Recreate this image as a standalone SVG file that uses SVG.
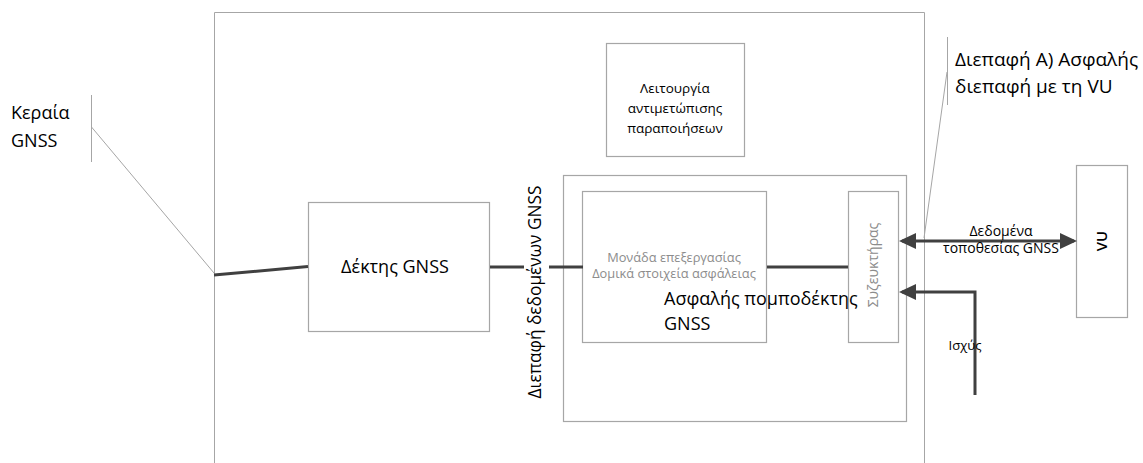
<svg xmlns="http://www.w3.org/2000/svg" width="1143" height="463" viewBox="0 0 1143 463">
<style>
.box{fill:#fff;stroke:#a6a6a6;stroke-width:1.2}
.thin{fill:none;stroke:#a6a6a6;stroke-width:1}
.thick{fill:none;stroke:#404040;stroke-width:3}
.t{font-family:"Open Sans","DejaVu Sans",sans-serif;fill:#000}
.g{font-family:"Open Sans","DejaVu Sans",sans-serif;fill:#8c8c8c}
</style>
<defs>
<marker id="ah" markerWidth="17" markerHeight="16" refX="14" refY="8" orient="auto-start-reverse" markerUnits="userSpaceOnUse">
<path d="M0,0 L17,8 L0,16 Z" fill="#404040"/>
</marker>
</defs>
<rect width="1143" height="463" fill="#fff"/>
<g id="outer"><path class="thin" d="M214.5,470 V12.5 H924.5 V470"/></g>
<g id="antenna">
<path class="thin" d="M91.5,95 V162"/>
<text class="t" x="11" y="119" font-size="18">Κεραία</text>
<text class="t" x="11" y="147" font-size="18">GNSS</text>
</g>
<g id="tamper">
<rect class="box" x="606.5" y="43.5" width="138" height="113"/>
<text class="t" font-size="13.5" text-anchor="middle"><tspan x="675" y="93">Λειτουργία</tspan><tspan x="675" y="113">αντιμετώπισης</tspan><tspan x="675" y="133">παραποιήσεων</tspan></text>
</g>
<g id="receiver">
<rect class="box" x="308.5" y="202.5" width="181" height="129"/>
<text class="t" x="395" y="273" font-size="18" text-anchor="middle">Δέκτης GNSS</text>
</g>
<g id="transceiver">
<rect class="box" x="563.5" y="175.5" width="343" height="246"/>
</g>
<g id="processing">
<rect class="box" x="582.5" y="191.5" width="184" height="151"/>
<text class="g" font-size="12.8" text-anchor="middle"><tspan x="674" y="262">Μονάδα επεξεργασίας</tspan><tspan x="674" y="278">Δομικά στοιχεία ασφάλειας</tspan></text>
</g>
<g id="connector-box">
<rect class="box" x="848.5" y="191.5" width="50" height="151"/>
<text class="g" font-size="14" text-anchor="middle" transform="translate(878,265) rotate(-90)">Συζευκτήρας</text>
</g>
<g id="transceiver-title">
<text class="t" font-size="18" x="664" y="305">Ασφαλής πομποδέκτης</text>
<text class="t" font-size="18" x="664" y="330">GNSS</text>
</g>
<g id="vu">
<rect class="box" x="1076.5" y="165.5" width="51" height="152"/>
<text class="t" font-size="15" font-weight="600" text-anchor="middle" transform="translate(1107,241) rotate(-90)">VU</text>
</g>
<g id="connectors">
<path class="thin" d="M91.5,127 L214,273"/>
<path class="thick" d="M214,275 L308,266.5"/>
<path class="thick" d="M490,267 H524 M549,267 H583"/>
<path class="thick" d="M767,267 H848"/>
<path class="thick" d="M902,241 H1074" marker-start="url(#ah)" marker-end="url(#ah)"/>
<path class="thick" d="M975,395 V292 H902" marker-end="url(#ah)"/>
<path class="thin" d="M947.5,37 V105 M947,72 L924,238"/>
</g>
<g id="labels">
<text class="t" font-size="17.3" text-anchor="middle" transform="translate(541,292) rotate(-90)">Διεπαφή δεδομένων GNSS</text>
<text class="t" font-size="19" x="955" y="66">Διεπαφή Α) Ασφαλής</text>
<text class="t" font-size="19" x="955" y="93">διεπαφή με τη VU</text>
<text class="t" font-size="14" text-anchor="middle" x="1001" y="236">Δεδομένα</text>
<text class="t" font-size="14" text-anchor="middle" x="1001" y="253">τοποθεσίας GNSS</text>
<text class="t" font-size="13" text-anchor="middle" x="965" y="350">Ισχύς</text>
</g>
</svg>
